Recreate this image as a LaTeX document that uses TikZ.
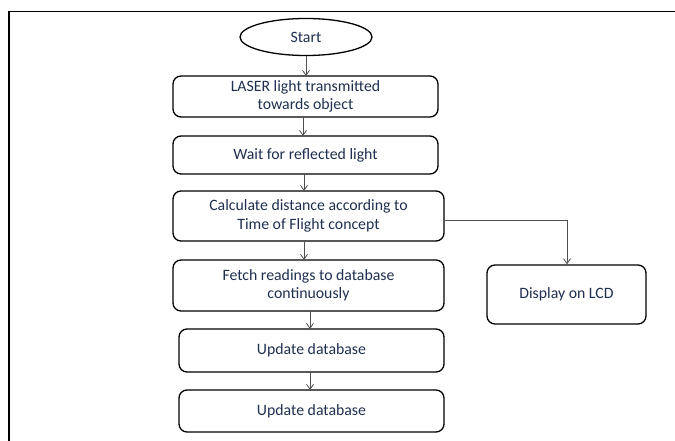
\documentclass[tikz,border=0pt]{standalone}
\usepackage{fontspec}
\setmainfont{Carlito}
\usetikzlibrary{shapes.geometric,arrows.meta}
\definecolor{txt}{HTML}{1F3050}
\definecolor{ln}{HTML}{505050}
\begin{document}
\begin{tikzpicture}[x=1pt,y=-1pt,
  box/.style={draw=black,line width=1.3pt,rounded corners=8pt,align=center,text=txt,font=\fontsize{15.8}{18.5}\selectfont,inner sep=0pt},
  arr/.style={draw=ln,line width=0.8pt,-{Straight Barb[length=5pt,width=7pt]}}]
\useasboundingbox (0,0) rectangle (675,441);
\fill[white] (0,0) rectangle (675,441);
\draw[line width=1.8pt] (9,441) -- (9,11.5) -- (675,11.5);
\node[draw=black,line width=1.3pt,ellipse,minimum width=132pt,minimum height=37pt,inner sep=0pt,text=txt,font=\fontsize{15.8}{18.5}\selectfont] (s) at (306,37) {Start};
\node[box,minimum width=265pt,minimum height=41pt] (b1) at (305.5,96.5) {LASER light transmitted\\towards object};
\node[box,minimum width=265pt,minimum height=38pt] (b2) at (305.5,155) {Wait for reflected light};
\node[box,minimum width=271pt,minimum height=50pt] (b3) at (308.5,216) {Calculate distance according to\\Time of Flight concept};
\node[box,minimum width=271pt,minimum height=51pt] (b4) at (308.5,285.5) {Fetch readings to database\\continuously};
\node[box,minimum width=265pt,minimum height=43pt] (b5) at (311.5,350.5) {Update database};
\node[box,minimum width=265pt,minimum height=42pt] (b6) at (311.5,411) {Update database};
\node[box,minimum width=159pt,minimum height=59pt] (lcd) at (566.5,294.5) {Display on LCD};
\draw[arr] (s.south) -- (306,76);
\draw[arr] (303,117) -- (303,136);
\draw[arr] (304,174) -- (304,191);
\draw[arr] (304,241) -- (304,260);
\draw[arr] (310,311) -- (310,329);
\draw[arr] (310,372) -- (310,390);
\draw[arr] (b3.east |- 0,220) -| (lcd.north -| 567,0);
\end{tikzpicture}
\end{document}
